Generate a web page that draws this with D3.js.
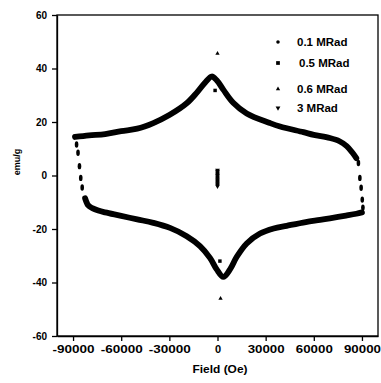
<!DOCTYPE html>
<html>
<head>
<meta charset="utf-8">
<script src="https://cdn.jsdelivr.net/npm/d3@7"></script>
<style>
  body { margin: 0; background: #fff; }
  text { font-family: "Liberation Sans", Arial, sans-serif; font-weight: bold; fill: #000; }
</style>
</head>
<body>
<div id="chart"></div>
<script>
// hysteresis loop, 0.1 MRad (dense points -> thick band)
const upperField = [-88800, -80000, -70000, -60000, -50000, -40000, -30000, -19200, -13000, -7800, -3600, -500, 3600, 9800, 18200, 32700, 39000, 53500, 60000, 70000, 76000, 80500, 84000, 86500];
const upperMag   = [14.4, 15.0, 15.5, 16.6, 17.5, 19.6, 22.6, 27.0, 30.9, 34.7, 37.0, 35.6, 32.1, 27.2, 23.2, 19.6, 18.3, 16.2, 15.2, 14.0, 12.8, 11.0, 8.6, 6.5];
const lowerField = [90000, 86500, 80000, 70000, 63900, 55000, 43100, 35000, 26500, 18200, 12000, 7800, 3600, -500, -4700, -10900, -19200, -29600, -40000, -50000, -60700, -70000, -74300, -78000, -80500, -82500];
const lowerMag   = [-13.8, -14.3, -15.0, -16.0, -16.6, -17.4, -18.8, -19.8, -21.7, -25.4, -30.4, -35.1, -37.9, -35.1, -30.8, -26.4, -22.7, -19.6, -17.7, -16.4, -15.0, -13.8, -13.1, -12.2, -11.2, -8.5];
// sparse points on the steep parts
const dropField = [-87800, -86900, -86000, -85200, -84300, 87800, 88700, 89500, 90200, 90600];
const dropMag   = [11.6, 8.5, 3.5, -0.9, -4.5, 4.7, -0.9, -4.6, -9.0, -12.0];

// other doses
const sqField = [-1500, 1500];
const sqMag   = [31.8, -32];
const triField = [0, 1900];
const triMag   = [45.6, -46];
const dtriField = [0, 0, 0, 0, 0, 0, 0, 0, 0, 0, 0, 0, 0];
const dtriMag   = [2, 1.5, 1, 0.5, 0, -0.5, -1, -1.5, -2, -2.5, -3, -3.5, -4];

const legendLabels = ["0.1 MRad", "0.5 MRad", "0.6 MRad", "3 MRad"];
const xTicks = [-90000, -60000, -30000, 0, 30000, 60000, 90000];
const yTicks = [-60, -40, -20, 0, 20, 40, 60];

const W = 381, H = 383;
const svg = d3.select("#chart").append("svg").attr("width", W).attr("height", H);

const x = d3.scaleLinear().domain([-100000, 100000]).range([57, 378]);
const y = d3.scaleLinear().domain([-60, 60]).range([336, 15]);

// frame
svg.append("rect")
  .attr("x", x.range()[0]).attr("y", y.range()[1])
  .attr("width", x.range()[1] - x.range()[0]).attr("height", y.range()[0] - y.range()[1])
  .attr("fill", "none").attr("stroke", "#000").attr("stroke-width", 1.3);

// axes
const xAxis = svg.append("g")
  .attr("transform", `translate(0,${y.range()[0]})`)
  .call(d3.axisBottom(x).tickValues(xTicks).tickSize(5).tickSizeOuter(0).tickFormat(d => String(d)));
xAxis.select(".domain").attr("stroke-width", 1.3);
xAxis.selectAll(".tick line").attr("stroke-width", 1.3);
xAxis.selectAll("text")
  .attr("font-size", 11).attr("y", 9)
  .attr("textLength", d => d === 0 ? null : (d < 0 ? 42 : 37))
  .attr("lengthAdjust", "spacingAndGlyphs");

const yAxis = svg.append("g")
  .attr("transform", `translate(${x.range()[0]},0)`)
  .call(d3.axisLeft(y).tickValues(yTicks).tickSize(5).tickSizeOuter(0).tickPadding(5).tickFormat(d => String(d)));
yAxis.select(".domain").attr("stroke-width", 1.3);
yAxis.selectAll(".tick line").attr("stroke-width", 1.3);
yAxis.selectAll("text").attr("font-size", 10);

// axis titles
svg.append("text").attr("x", 220).attr("y", 373).attr("text-anchor", "middle")
  .attr("font-size", 11).attr("textLength", 55).attr("lengthAdjust", "spacingAndGlyphs")
  .text("Field (Oe)");
svg.append("text").attr("transform", "translate(20,162) rotate(-90)")
  .attr("text-anchor", "middle").attr("font-size", 9)
  .text("emu/g");

// loop
const line = d3.line().x(d => x(d[0])).y(d => y(d[1])).curve(d3.curveCatmullRom.alpha(0.5));
const upper = upperField.map((f, i) => [f, upperMag[i]]);
const lower = lowerField.map((f, i) => [f, lowerMag[i]]);
[upper, lower].forEach(pts => {
  svg.append("path").datum(pts).attr("d", line)
    .attr("fill", "none").attr("stroke", "#000").attr("stroke-width", 5.8)
    .attr("stroke-linecap", "round").attr("stroke-linejoin", "round");
});
svg.selectAll(".drop").data(dropField.map((f, i) => [f, dropMag[i]])).enter()
  .append("ellipse").attr("class", "drop")
  .attr("cx", d => x(d[0])).attr("cy", d => y(d[1]))
  .attr("rx", 1.8).attr("ry", 3.2).attr("fill", "#000");

// other series
svg.selectAll(".sq").data(sqField.map((f, i) => [f, sqMag[i]])).enter()
  .append("path").attr("class", "sq")
  .attr("transform", d => `translate(${x(d[0])},${y(d[1])})`)
  .attr("d", d3.symbol().type(d3.symbolSquare).size(12)());
svg.selectAll(".tri").data(triField.map((f, i) => [f, triMag[i]])).enter()
  .append("path").attr("class", "tri")
  .attr("transform", d => `translate(${x(d[0])},${y(d[1])})`)
  .attr("d", d3.symbol().type(d3.symbolTriangle).size(8)());
svg.selectAll(".dtri").data(dtriField.map((f, i) => [f, dtriMag[i]])).enter()
  .append("path").attr("class", "dtri")
  .attr("transform", d => `translate(${x(d[0])},${y(d[1])}) rotate(180)`)
  .attr("d", d3.symbol().type(d3.symbolTriangle).size(10)());

// legend
const legendY = [42, 63, 89, 108];
const legendX = [297, 299, 297, 297];
const legendSym = [
  d3.symbol().type(d3.symbolCircle).size(10)(),
  d3.symbol().type(d3.symbolSquare).size(14)(),
  d3.symbol().type(d3.symbolTriangle).size(8)(),
  d3.symbol().type(d3.symbolTriangle).size(10)()
];
const leg = svg.append("g");
legendLabels.forEach((lab, i) => {
  leg.append("path").attr("d", legendSym[i])
    .attr("transform", `translate(278,${legendY[i]})${i === 3 ? " rotate(180)" : ""}`);
  leg.append("text").attr("x", legendX[i]).attr("y", legendY[i] + 4)
    .attr("font-size", 11.5).text(lab);
});
</script>
</body>
</html>
